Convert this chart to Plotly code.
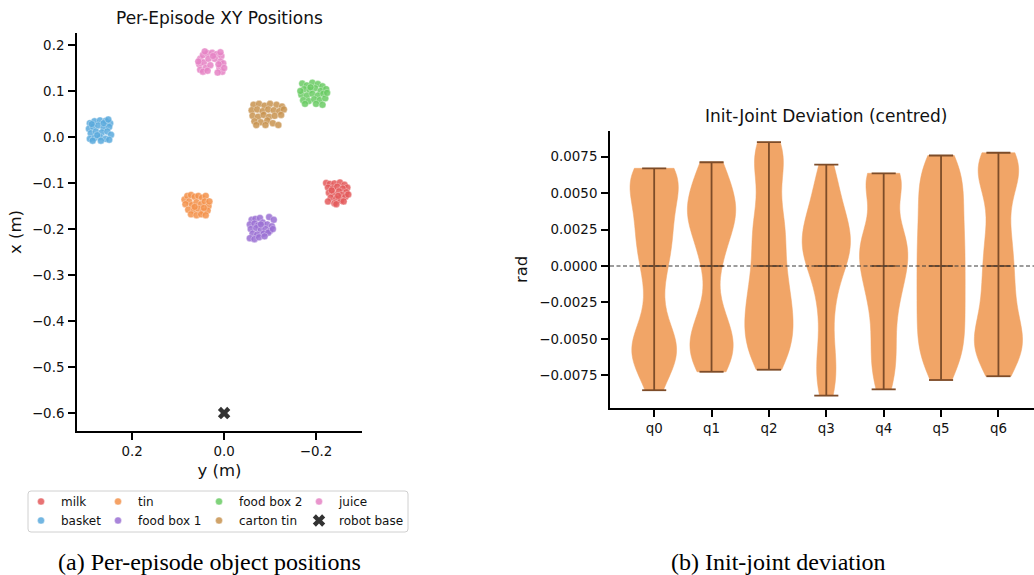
import numpy as np
import plotly.graph_objects as go

W, H = 1034, 575

# ---------------- data: per-episode object positions (y, x) in metres ----------------
milk_yx = [[-0.222,-0.100],[-0.230,-0.102],[-0.240,-0.101],[-0.252,-0.099],[-0.262,-0.104],[-0.268,-0.110],
           [-0.226,-0.110],[-0.236,-0.112],[-0.246,-0.108],[-0.258,-0.112],[-0.266,-0.120],[-0.228,-0.121],
           [-0.238,-0.124],[-0.250,-0.118],[-0.256,-0.126],[-0.264,-0.130],[-0.232,-0.132],[-0.244,-0.134],
           [-0.254,-0.138],[-0.226,-0.140],[-0.240,-0.144],[-0.248,-0.128],[-0.260,-0.140],[-0.234,-0.116],
           [-0.244,-0.146],[-0.270,-0.125]]
basket_yx = [[0.292,0.030],[0.282,0.034],[0.270,0.036],[0.258,0.035],[0.248,0.030],[0.294,0.018],
             [0.285,0.022],[0.274,0.025],[0.262,0.020],[0.250,0.022],[0.290,0.008],[0.279,0.012],
             [0.266,0.010],[0.254,0.012],[0.246,0.005],[0.292,-0.004],[0.282,-0.002],[0.270,0.000],
             [0.258,-0.004],[0.250,-0.006],[0.286,-0.008],[0.262,0.030],[0.276,0.004],[0.288,0.028],
             [0.252,0.038],[0.268,-0.008]]
tin_yx = [[0.086,-0.136],[0.080,-0.128],[0.076,-0.140],[0.072,-0.126],[0.064,-0.130],[0.056,-0.128],
          [0.048,-0.132],[0.040,-0.128],[0.084,-0.146],[0.070,-0.148],[0.060,-0.142],[0.050,-0.146],
          [0.042,-0.140],[0.034,-0.150],[0.078,-0.158],[0.066,-0.160],[0.056,-0.156],[0.046,-0.162],
          [0.036,-0.160],[0.072,-0.168],[0.060,-0.170],[0.050,-0.168],[0.040,-0.170],[0.032,-0.140],
          [0.064,-0.152],[0.044,-0.154]]
foodbox1_yx = [[-0.060,-0.180],[-0.068,-0.178],[-0.078,-0.176],[-0.098,-0.174],[-0.108,-0.180],[-0.056,-0.190],
               [-0.066,-0.188],[-0.074,-0.192],[-0.084,-0.186],[-0.094,-0.190],[-0.104,-0.194],[-0.058,-0.200],
               [-0.070,-0.198],[-0.080,-0.202],[-0.090,-0.200],[-0.100,-0.204],[-0.062,-0.210],[-0.072,-0.212],
               [-0.086,-0.210],[-0.096,-0.208],[-0.056,-0.220],[-0.066,-0.222],[-0.076,-0.218],[-0.088,-0.216],
               [-0.080,-0.190],[-0.106,-0.200]]
foodbox2_yx = [[-0.170,0.116],[-0.180,0.112],[-0.192,0.118],[-0.204,0.115],[-0.214,0.110],[-0.174,0.104],
               [-0.186,0.102],[-0.198,0.106],[-0.210,0.100],[-0.222,0.104],[-0.168,0.092],[-0.180,0.090],
               [-0.192,0.094],[-0.204,0.090],[-0.216,0.094],[-0.172,0.080],[-0.184,0.078],[-0.196,0.082],
               [-0.208,0.080],[-0.220,0.084],[-0.176,0.072],[-0.200,0.072],[-0.214,0.070],[-0.188,0.108],
               [-0.224,0.096],[-0.166,0.100]]
cartontin_yx = [[-0.064,0.070],[-0.076,0.072],[-0.088,0.068],[-0.100,0.072],[-0.114,0.070],[-0.126,0.066],
                [-0.060,0.058],[-0.072,0.060],[-0.084,0.056],[-0.096,0.060],[-0.108,0.058],[-0.120,0.056],
                [-0.130,0.060],[-0.062,0.046],[-0.074,0.044],[-0.086,0.048],[-0.098,0.044],[-0.110,0.046],
                [-0.124,0.048],[-0.066,0.034],[-0.080,0.032],[-0.094,0.036],[-0.106,0.030],[-0.118,0.026],
                [-0.070,0.026],[-0.090,0.026]]
juice_yx = [[0.052,0.170],[0.046,0.178],[0.036,0.182],[0.026,0.183],[0.016,0.180],[0.006,0.176],
            [0.054,0.158],[0.044,0.162],[0.034,0.170],[0.020,0.170],[0.008,0.164],[0.002,0.160],
            [0.052,0.146],[0.040,0.150],[0.030,0.156],[0.010,0.150],[0.004,0.142],[0.046,0.142],
            [0.036,0.144],[0.014,0.140],[0.000,0.150],[0.024,0.176],[0.056,0.164],[0.008,0.184],
            [0.042,0.186],[0.012,0.158]]
robot_base_yx = [[0.0, -0.6]]

object_names = ["milk", "basket", "tin", "food box 1", "food box 2", "carton tin", "juice"]
object_data = [milk_yx, basket_yx, tin_yx, foodbox1_yx, foodbox2_yx, cartontin_yx, juice_yx]
object_colors = ["#e45a5b", "#5aaadd", "#f4924b", "#9b70d4", "#6acc64", "#c8934f", "#e683c5"]
# matplotlib ncol=4 column layout: legend column of each entry
object_legend = ["legend", "legend", "legend2", "legend2", "legend3", "legend3", "legend4"]

xy_xticks = [0.2, 0.0, -0.2]
xy_xticktext = ["0.2", "0.0", "\u22120.2"]
xy_yticks = [0.2, 0.1, 0.0, -0.1, -0.2, -0.3, -0.4, -0.5, -0.6]
xy_yticktext = ["0.2", "0.1", "0.0", "\u22120.1", "\u22120.2", "\u22120.3", "\u22120.4", "\u22120.5", "\u22120.6"]

# ---------------- data: init-joint deviation samples (mrad, before centring) ----------------
joint_labels = ["q0", "q1", "q2", "q3", "q4", "q5", "q6"]
q0_mrad = [6.66, 6.6, 6.5, 6.4, 6.3, 6.1, 5.9, 5.6, 5.3, 5.0, 4.6, 4.2, 3.8, 3.4, 3.0, 2.6, 2.2, 1.8, 1.4, 1.0,
           0.6, 0.2, -0.4, -1.1, -2.0, -3.0, -3.9, -4.5, -4.9, -5.2, -5.4, -5.6, -5.8, -6.0, -6.2, -6.5, -6.8,
           -7.2, -7.7, -8.56]
q1_mrad = [7.12, 6.9, 6.6, 6.0, 5.5, 5.1, 4.8, 4.5, 4.2, 4.0, 3.8, 3.5, 3.2, 3.0, 2.9, 2.5, 2.0, 1.4, 0.7, 0.3,
           -0.2, -2.3, -3.0, -3.6, -4.1, -4.5, -4.8, -5.1, -5.3, -5.5, -5.8, -6.1, -6.5, -6.8, -7.0, -7.25]
q2_mrad = [8.49, 8.35, 8.2, 7.9, 7.6, 7.3, 7.0, 6.6, 6.3, 5.6, 4.9, 4.2, 3.8, 3.5, 2.9, 2.6, 2.4, 2.3, 1.8, 1.3,
           1.0, 0.8, 0.3, -0.2, -0.5, -0.7, -1.2, -1.4, -1.6, -2.0, -2.2, -2.4, -2.7, -3.0, -3.3, -3.6, -3.8,
           -3.9, -4.2, -4.4, -4.5, -4.8, -5.1, -5.3, -5.5, -5.9, -6.1, -6.4, -6.7, -6.9, -7.12]
q3_mrad = [6.93, 6.5, 6.0, 5.6, 5.2, 4.5, 4.0, 3.8, 3.6, 3.3, 3.0, 2.7, 2.4, 2.2, 2.1, 1.8, 1.6, 1.5, 1.2, 1.0,
           0.9, 0.6, 0.5, 0.3, -0.1, -0.5, -0.9, -1.4, -1.9, -2.6, -3.3, -4.1, -5.3, -5.9, -6.3, -7.0, -7.6,
           -8.1, -8.5, -8.92]
q4_mrad = [6.2, 6.1, 6.0, 5.95, 5.8, 5.7, 5.6, 5.5, 5.3, 5.1, 3.2, 2.9, 2.5, 2.3, 2.1, 1.7, 1.5, 1.3, 1.0, 0.9,
           0.7, 0.4, 0.2, 0.1, -0.2, -0.5, -0.8, -1.1, -1.4, -1.7, -2.0, -2.4, -2.8, -3.2, -3.7, -4.3, -4.9,
           -5.5, -5.8, -6.2, -6.8, -7.3, -7.8, -8.2, -8.62]
q5_mrad = [7.62, 7.2, 6.9, 6.6, 6.0, 5.4, 5.1, 4.9, 4.4, 3.9, 3.4, 3.0, 2.6, 2.2, 1.8, 1.4, 1.0, 0.6, 0.2,
           -0.2, -0.6, -1.0, -1.4, -1.8, -2.2, -2.6, -3.0, -3.4, -3.8, -4.2, -4.6, -5.0, -5.4, -5.9, -6.2, -6.5,
           -7.1, -7.78]
q6_mrad = [7.8, 7.6, 7.4, 7.1, 6.8, 6.4, 6.0, 5.5, 4.8, 3.8, 2.6, 2.0, 1.3, 0.7, 0.0, -0.6, -1.2, -1.8, -2.2,
           -3.0, -3.6, -4.1, -4.5, -4.8, -5.1, -5.4, -5.7, -6.0, -6.4, -6.9, -7.53]
joint_samples = [q0_mrad, q1_mrad, q2_mrad, q3_mrad, q4_mrad, q5_mrad, q6_mrad]

rad_ticks = [0.0075, 0.005, 0.0025, 0.0, -0.0025, -0.005, -0.0075]
rad_ticktext = ["0.0075", "0.0050", "0.0025", "0.0000", "\u22120.0025", "\u22120.0050", "\u22120.0075"]

# ---------------- style ----------------
FONT = "DejaVu Sans"
TXT = "#111111"
VIOLIN_FILL = "#f1a567"
VIOLIN_LINE = "#7d4c29"
VIOLIN_WIDTH = 0.84
BANDWIDTH = 0.0015


def px(xp):
    return xp / W


def py(yp):
    return 1 - yp / H


fig = go.Figure()

# scatter clusters
for name, pts, col, leg in zip(object_names, object_data, object_colors, object_legend):
    arr = np.array(pts)
    fig.add_trace(go.Scatter(
        x=arr[:, 0], y=arr[:, 1], mode="markers", name=name, legend=leg,
        marker=dict(size=7, color=col, opacity=0.85, line=dict(color="rgba(255,255,255,0.6)", width=0.6)),
        xaxis="x", yaxis="y", hoverinfo="skip"))

rb = np.array(robot_base_yx)
fig.add_trace(go.Scatter(
    x=rb[:, 0], y=rb[:, 1], mode="markers", name="robot base", legend="legend4",
    marker=dict(symbol="x", size=11, color="#333333", line=dict(width=0)),
    xaxis="x", yaxis="y", hoverinfo="skip"))

# violins
ext_x, ext_y = [], []
for i, (lab, samp) in enumerate(zip(joint_labels, joint_samples)):
    v = np.array(samp) * 1e-3
    v = v - v.mean()          # centred
    fig.add_trace(go.Violin(
        x=[i] * len(v), y=v, name=lab, xaxis="x2", yaxis="y2",
        width=VIOLIN_WIDTH, scalemode="width", spanmode="hard", bandwidth=BANDWIDTH,
        fillcolor=VIOLIN_FILL, line=dict(color=VIOLIN_FILL, width=0.5), opacity=1,
        points=False, box=dict(visible=False), meanline=dict(visible=False),
        showlegend=False, hoverinfo="skip"))
    lo, hi, mu = v.min(), v.max(), v.mean()
    cap = VIOLIN_WIDTH * 0.25
    ext_x += [i, i, None, i - cap, i + cap, None, i - cap, i + cap, None, i - cap, i + cap, None]
    ext_y += [lo, hi, None, lo, lo, None, hi, hi, None, mu, mu, None]

fig.add_trace(go.Scatter(x=ext_x, y=ext_y, mode="lines", xaxis="x2", yaxis="y2",
                         line=dict(color=VIOLIN_LINE, width=1.8), showlegend=False, hoverinfo="skip"))

fig.add_shape(type="line", xref="x2 domain", x0=0, x1=1, yref="y2", y0=0, y1=0,
              line=dict(color="#3a3a3a", width=1.1, dash="4px,2.5px"), layer="above")

axis_common = dict(showline=True, linecolor="#000000", linewidth=1.8, ticks="outside", ticklen=7,
                   tickwidth=1.5, tickcolor="#000000", showgrid=False, zeroline=False,
                   tickfont=dict(family=FONT, size=13.4, color=TXT), mirror=False)

fig.update_layout(
    width=W, height=H, margin=dict(l=0, r=0, t=0, b=0),
    paper_bgcolor="white", plot_bgcolor="white", violinmode="overlay",
    xaxis=dict(domain=[px(77), px(362)], range=[0.32, -0.30], anchor="y",
               tickvals=xy_xticks, ticktext=xy_xticktext, ticklabelstandoff=0,
               title=dict(text="y (m)", font=dict(family=FONT, size=16.5, color=TXT), standoff=6),
               **axis_common),
    yaxis=dict(domain=[py(431), py(33)], range=[-0.639, 0.226], anchor="x",
               tickvals=xy_yticks, ticktext=xy_yticktext, ticklabelstandoff=1,
               title=dict(text="x (m)", font=dict(family=FONT, size=16.5, color=TXT), standoff=6),
               **axis_common),
    xaxis2=dict(domain=[px(610), 1.0], range=[-0.77, 6.62], anchor="y2",
                tickvals=list(range(len(joint_labels))), ticktext=joint_labels, ticklabelstandoff=0,
                **axis_common),
    yaxis2=dict(domain=[py(408), py(130.7)], range=[-0.00974, 0.00928], anchor="x2",
                tickvals=rad_ticks, ticktext=rad_ticktext, ticklabelstandoff=1,
                title=dict(text="rad", font=dict(family=FONT, size=16.5, color=TXT), standoff=8),
                **axis_common),
    showlegend=True,
)

leg_common = dict(orientation="v", xanchor="left", yanchor="top", bgcolor="rgba(0,0,0,0)",
                  borderwidth=0, font=dict(family=FONT, size=12, color=TXT), itemwidth=30,
                  tracegroupgap=0)
fig.update_layout(
    legend=dict(x=px(21), y=py(487), **leg_common),
    legend2=dict(x=px(98), y=py(487), **leg_common),
    legend3=dict(x=px(199), y=py(487), **leg_common),
    legend4=dict(x=px(299), y=py(487), **leg_common),
)

# legend frame (rounded)
x0, x1, y0, y1, r = 28, 408, 491, 532, 3
path = (f"M {px(x0 + r)},{py(y0)} L {px(x1 - r)},{py(y0)} Q {px(x1)},{py(y0)} {px(x1)},{py(y0 + r)} "
        f"L {px(x1)},{py(y1 - r)} Q {px(x1)},{py(y1)} {px(x1 - r)},{py(y1)} "
        f"L {px(x0 + r)},{py(y1)} Q {px(x0)},{py(y1)} {px(x0)},{py(y1 - r)} "
        f"L {px(x0)},{py(y0 + r)} Q {px(x0)},{py(y0)} {px(x0 + r)},{py(y0)} Z")
fig.add_shape(type="path", xref="paper", yref="paper", path=path,
              line=dict(color="#d0d0d0", width=1), fillcolor="rgba(255,255,255,0.8)", layer="below")

# titles and captions
fig.add_annotation(text="Per-Episode XY Positions", x=px(219), y=py(18), xref="paper", yref="paper",
                   showarrow=False, font=dict(family=FONT, size=17, color=TXT), xanchor="center", yanchor="middle")
fig.add_annotation(text="Init-Joint Deviation (centred)", x=px(826), y=py(116), xref="paper", yref="paper",
                   showarrow=False, font=dict(family=FONT, size=17, color=TXT), xanchor="center", yanchor="middle")
fig.add_annotation(text="(a) Per-episode object positions", x=px(209), y=py(562), xref="paper", yref="paper",
                   showarrow=False, font=dict(family="Liberation Serif", size=24, color="#000000"),
                   xanchor="center", yanchor="middle")
fig.add_annotation(text="(b) Init-joint deviation", x=px(778), y=py(562), xref="paper", yref="paper",
                   showarrow=False, font=dict(family="Liberation Serif", size=24, color="#000000"),
                   xanchor="center", yanchor="middle")

fig.write_html("out.html", config={"displayModeBar": False},
               post_script="document.body.style.margin='0px';")
